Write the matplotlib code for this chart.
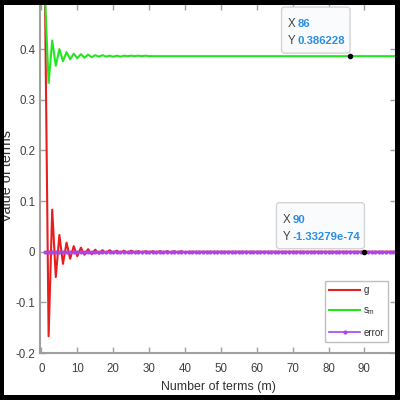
import matplotlib
matplotlib.use("Agg")
import matplotlib.pyplot as plt
import matplotlib.transforms as mtransforms
from matplotlib.patches import FancyBboxPatch, Rectangle

REG = ['Liberation Sans', 'DejaVu Sans']
plt.rcParams['font.family'] = REG
plt.rcParams['mathtext.fontset'] = 'custom'
plt.rcParams['mathtext.rm'] = 'Liberation Sans'
plt.rcParams['mathtext.it'] = 'Liberation Sans:italic'

# ---- data ----
m = list(range(1, 100))
g = [0.5, -0.167, 0.083, -0.05, 0.033, -0.024, 0.018, -0.014, 0.011, -0.009,
     0.008, -0.006, 0.005, -0.005, 0.004, -0.004, 0.003, -0.003, 0.003, -0.002,
     0.002, -0.002, 0.002, -0.002, 0.002, -0.001, 0.001, -0.001, 0.001, -0.001,
     0.001, -0.001, 0.001, -0.001, 0.001, -0.001, 0.001, -0.001, 0.001, -0.001,
     0.0, 0.0, 0.0, 0.0, 0.0, 0.0, 0.0, 0.0, 0.0, 0.0,
     0.0, 0.0, 0.0, 0.0, 0.0, 0.0, 0.0, 0.0, 0.0, 0.0,
     0.0, 0.0, 0.0, 0.0, 0.0, 0.0, 0.0, 0.0, 0.0, 0.0,
     0.0, 0.0, 0.0, 0.0, 0.0, 0.0, 0.0, 0.0, 0.0, 0.0,
     0.0, 0.0, 0.0, 0.0, 0.0, 0.0, 0.0, 0.0, 0.0, 0.0,
     0.0, 0.0, 0.0, 0.0, 0.0, 0.0, 0.0, 0.0, 0.0]
s_m = [0.5, 0.333, 0.417, 0.367, 0.400, 0.376, 0.394, 0.380, 0.391, 0.382,
       0.390, 0.383, 0.389, 0.384, 0.388, 0.385, 0.388, 0.385, 0.387, 0.385,
       0.387, 0.385, 0.387, 0.386, 0.387, 0.386, 0.387, 0.386, 0.387, 0.386,
       0.386, 0.386, 0.386, 0.386, 0.386, 0.386, 0.386, 0.386, 0.386, 0.386,
       0.386, 0.386, 0.386, 0.386, 0.386, 0.386, 0.386, 0.386, 0.386, 0.386,
       0.386, 0.386, 0.386, 0.386, 0.386, 0.386, 0.386, 0.386, 0.386, 0.386,
       0.386, 0.386, 0.386, 0.386, 0.386, 0.386, 0.386, 0.386, 0.386, 0.386,
       0.386, 0.386, 0.386, 0.386, 0.386, 0.386, 0.386, 0.386, 0.386, 0.386,
       0.386, 0.386, 0.386, 0.386, 0.386, 0.386, 0.386, 0.386, 0.386, 0.386,
       0.386, 0.386, 0.386, 0.386, 0.386, 0.386, 0.386, 0.386, 0.386]
error = [
    0.0, 0.0, 0.0, 0.0, 0.0, 0.0, 0.0, 0.0, 0.0, 0.0,
    0.0, 0.0, 0.0, 0.0, 0.0, 0.0, 0.0, 0.0, 0.0, 0.0,
    0.0, 0.0, 0.0, 0.0, 0.0, 0.0, 0.0, 0.0, 0.0, 0.0,
    0.0, 0.0, 0.0, 0.0, 0.0, 0.0, 0.0, 0.0, 0.0, 0.0,
    0.0, 0.0, 0.0, 0.0, 0.0, 0.0, 0.0, 0.0, 0.0, 0.0,
    0.0, 0.0, 0.0, 0.0, 0.0, 0.0, 0.0, 0.0, 0.0, 0.0,
    0.0, 0.0, 0.0, 0.0, 0.0, 0.0, 0.0, 0.0, 0.0, 0.0,
    0.0, 0.0, 0.0, 0.0, 0.0, 0.0, 0.0, 0.0, 0.0, 0.0,
    0.0, 0.0, 0.0, 0.0, 0.0, 0.0, 0.0, 0.0, 0.0, 0.0,
    0.0, 0.0, 0.0, 0.0, 0.0, 0.0, 0.0, 0.0, 0.0]
series_labels = ['g', r'$\mathrm{s_m}$', 'error']
xticks = [0, 10, 20, 30, 40, 50, 60, 70, 80, 90]
yticks = [-0.2, -0.1, 0, 0.1, 0.2, 0.3, 0.4]
ytick_labels = ['-0.2', '-0.1', '0', '0.1', '0.2', '0.3', '0.4']
tips = [(86, 0.386228, '86', '0.386228'), (90, 0.0, '90', '-1.33279e-74')]

# ---- figure ----
fig = plt.figure(figsize=(4, 4), dpi=100)
fig.patch.set_facecolor('white')
ax = fig.add_axes([40 / 400, 1 - 353 / 400, 356 / 400, 349 / 400])

c_red, c_green, c_purple = '#e61e1e', '#22e622', '#aa44ee'
ax.plot(m, g, color=c_red, lw=1.5, label=series_labels[0], zorder=3)
ax.plot(m, s_m, color=c_green, lw=1.5, label=series_labels[1], zorder=3)
ax.plot(m, error, color=c_purple, lw=1.2, marker='.', ms=4,
        label=series_labels[2], zorder=4)

ax.set_xlim(-0.4, 98.8)
ax.set_ylim(-0.2, 0.489)
ax.set_xticks(xticks)
ax.set_yticks(yticks)
ax.set_yticklabels(ytick_labels)
ax.tick_params(direction='in', length=4, width=1, colors='#a0a0a0',
               labelcolor='#404040', top=True, right=True, labelsize=8.3)
ax.tick_params(axis='x', pad=7.5)
ax.tick_params(axis='y', pad=3.5)
for sp in ax.spines.values():
    sp.set_color('#a0a0a0')
    sp.set_linewidth(1.5)

ax.set_xlabel('Number of terms (m)', fontsize=8.9, color='#303030')
ax.xaxis.set_label_coords(0.5, -0.08)
ax.set_ylabel('Value of terms', fontsize=10.4, color='#303030')
ax.yaxis.set_label_coords(-0.072, 0.506)

leg = ax.legend(loc='upper right', bbox_to_anchor=((388 - 40) / 356, (353 - 281) / 349),
                borderaxespad=0, fontsize=7, frameon=True, fancybox=False,
                handlelength=3.2, handletextpad=0.3, labelspacing=1.05,
                borderpad=0.45)
leg.get_frame().set_edgecolor('#b0b0b0')
leg.get_frame().set_linewidth(1)
for t in leg.get_texts():
    t.set_color('#303030')

# ---- data tips ----
box_w = [68.5, 88.0]
for (tx, ty, xs, ys), w in zip(tips, box_w):
    ax.plot([tx], [ty], 'o', color='black', ms=3, zorder=6)
    px, py = ax.transData.transform((tx, ty))
    t = mtransforms.Affine2D().translate(px, py)
    box = FancyBboxPatch((-w, 3), w, 46, boxstyle='round,pad=0,rounding_size=3',
                         transform=t, facecolor='#fafbfd', edgecolor='#d4d4d4',
                         lw=1, zorder=5)
    fig.add_artist(box)
    x0 = -w + 6
    for lab, val, dy in (('X', xs, 32), ('Y', ys, 15)):
        fig.text(x0, dy, lab, transform=t, fontsize=8.3, color='#404040',
                 va='center', ha='left', zorder=7)
        fig.text(x0 + 10, dy, val, transform=t, fontsize=8.2, color='#2a8fe6',
                 weight='bold', va='center', ha='left', zorder=7)

# ---- black frame around the picture ----
frame = [(0, 0, 400, 5), (0, 395, 400, 5), (0, 0, 4, 400), (395, 0, 5, 400)]
for (x, y, w, h) in frame:
    fig.add_artist(Rectangle((x / 400, 1 - (y + h) / 400), w / 400, h / 400,
                             transform=fig.transFigure, facecolor='black',
                             edgecolor='none', zorder=20))

fig.savefig('out.png', dpi=100, facecolor='white')
